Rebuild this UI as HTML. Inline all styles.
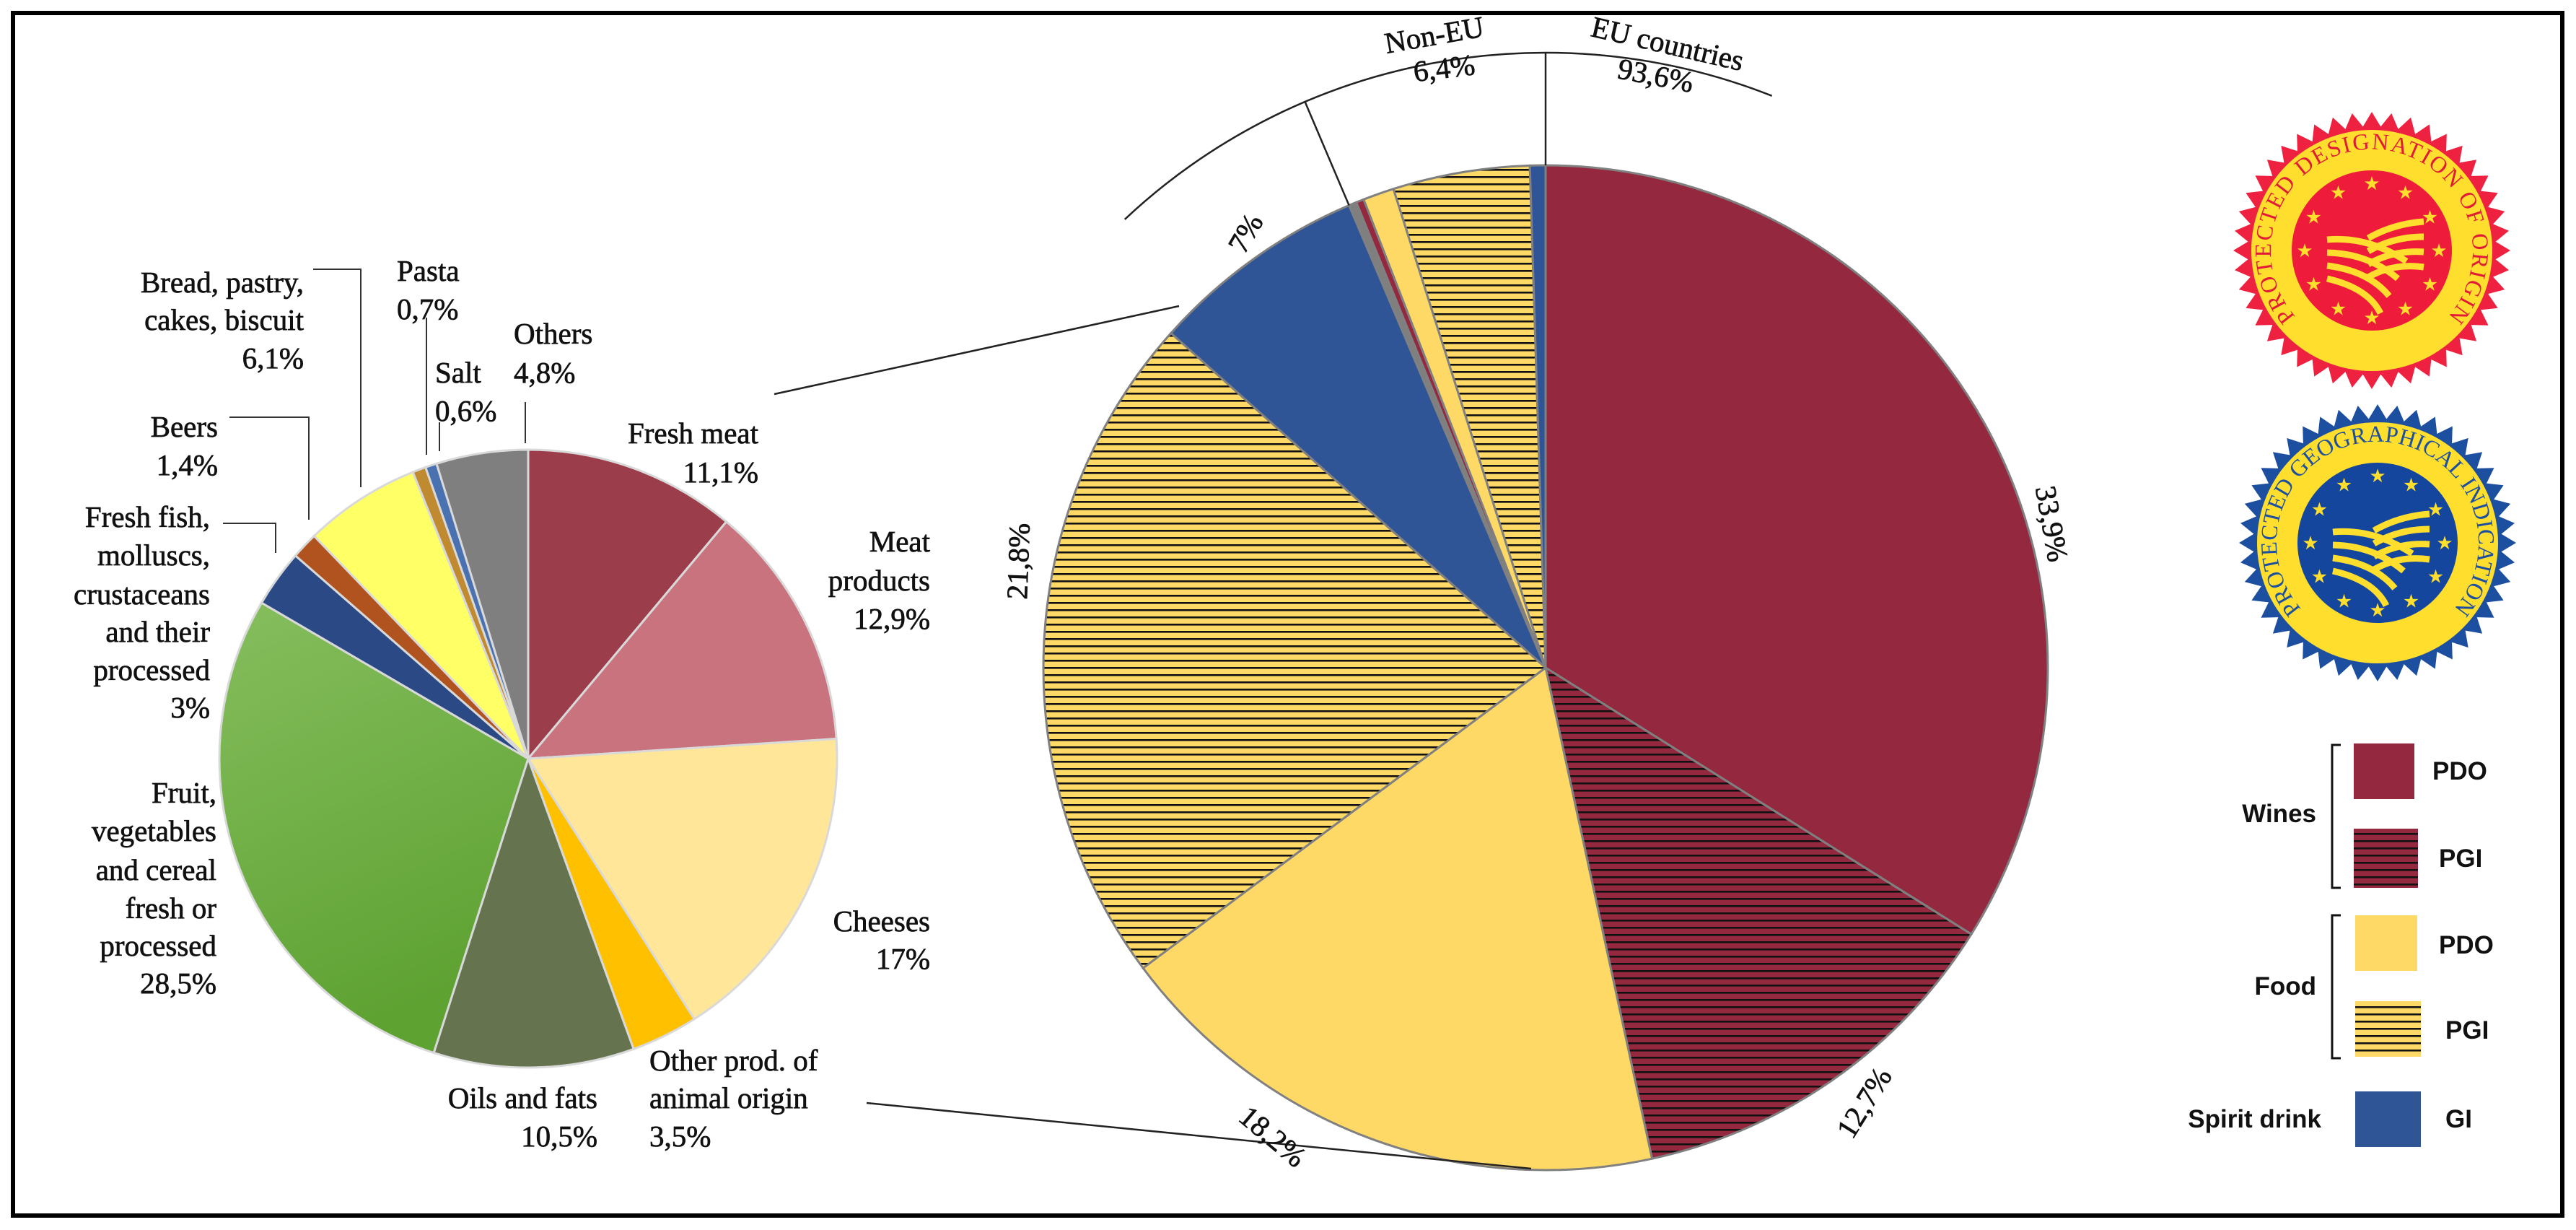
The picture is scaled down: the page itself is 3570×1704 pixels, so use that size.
<!DOCTYPE html>
<html><head><meta charset="utf-8"><style>
html,body{margin:0;padding:0;background:#fff;}
svg{display:block;}
.lbl{font-family:"Liberation Serif",serif;font-size:41px;fill:#111;stroke:#111;stroke-width:0.7px;}
.lg{font-family:"Liberation Sans",sans-serif;font-weight:bold;font-size:35px;fill:#111;}
</style></head><body>
<svg id="chart" width="3570" height="1704" viewBox="0 0 3570 1704" xmlns="http://www.w3.org/2000/svg">
<defs>
<pattern id="stripeWine" width="20" height="10" patternUnits="userSpaceOnUse"><rect width="20" height="10" fill="#93283F"/><rect y="4" width="20" height="2.6" fill="#111"/></pattern>
<pattern id="stripeFood" width="20" height="10" patternUnits="userSpaceOnUse"><rect width="20" height="10" fill="#FFD966"/><rect y="4" width="20" height="2.6" fill="#111"/></pattern>
<linearGradient id="greenGrad" x1="0" y1="0" x2="0.3" y2="1"><stop offset="0" stop-color="#86BE5E"/><stop offset="1" stop-color="#5EA232"/></linearGradient>
<path id="pdoTextPath" d="M 3197 454 A 140 140 0 1 1 3377 454"/>
<path id="pgiTextPath" d="M 3205 859 A 140 140 0 1 1 3385 859"/>
</defs>
<rect x="18" y="18" width="3533" height="1666" fill="none" stroke="#000" stroke-width="6"/>

<g id="leftPie"></g>
<g id="rightPie"></g>

<line x1="1073" y1="546" x2="1634" y2="424" stroke="#222" stroke-width="2.5"/>
<line x1="1201" y1="1528" x2="2122" y2="1619" stroke="#222" stroke-width="2.5"/>

<g id="arcGroup"></g>
<text class="lbl" transform="translate(1990,62) rotate(-10)" text-anchor="middle">Non-EU</text>
<text class="lbl" transform="translate(2003,108) rotate(-7)" text-anchor="middle">6,4%</text>
<text class="lbl" transform="translate(2308,74) rotate(13)" text-anchor="middle">EU countries</text>
<text class="lbl" transform="translate(2292,118) rotate(11)" text-anchor="middle">93,6%</text>

<text class="lbl" transform="translate(2830,728) rotate(80)" text-anchor="middle">33,9%</text>
<text class="lbl" transform="translate(2595,1535) rotate(-58)" text-anchor="middle">12,7%</text>
<text class="lbl" transform="translate(1755,1585) rotate(40)" text-anchor="middle">18,2%</text>
<text class="lbl" transform="translate(1425,778) rotate(-88)" text-anchor="middle">21,8%</text>
<text class="lbl" transform="translate(1738,330) rotate(-60)" text-anchor="middle">7%</text>

<g>
<text class="lbl" x="1051" y="614" text-anchor="end">Fresh meat</text>
<text class="lbl" x="1051" y="668" text-anchor="end">11,1%</text>
<text class="lbl" x="1289" y="764" text-anchor="end">Meat</text>
<text class="lbl" x="1289" y="818" text-anchor="end">products</text>
<text class="lbl" x="1289" y="871" text-anchor="end">12,9%</text>
<text class="lbl" x="1289" y="1290" text-anchor="end">Cheeses</text>
<text class="lbl" x="1289" y="1342" text-anchor="end">17%</text>
<text class="lbl" x="900" y="1483">Other prod. of</text>
<text class="lbl" x="900" y="1535">animal origin</text>
<text class="lbl" x="900" y="1588">3,5%</text>
<text class="lbl" x="828" y="1535" text-anchor="end">Oils and fats</text>
<text class="lbl" x="828" y="1588" text-anchor="end">10,5%</text>
<text class="lbl" x="300" y="1112" text-anchor="end">Fruit,</text>
<text class="lbl" x="300" y="1165" text-anchor="end">vegetables</text>
<text class="lbl" x="300" y="1219" text-anchor="end">and cereal</text>
<text class="lbl" x="300" y="1272" text-anchor="end">fresh or</text>
<text class="lbl" x="300" y="1324" text-anchor="end">processed</text>
<text class="lbl" x="300" y="1376" text-anchor="end">28,5%</text>
<text class="lbl" x="291" y="730" text-anchor="end">Fresh fish,</text>
<text class="lbl" x="291" y="783" text-anchor="end">molluscs,</text>
<text class="lbl" x="291" y="837" text-anchor="end">crustaceans</text>
<text class="lbl" x="291" y="889" text-anchor="end">and their</text>
<text class="lbl" x="291" y="942" text-anchor="end">processed</text>
<text class="lbl" x="291" y="994" text-anchor="end">3%</text>
<text class="lbl" x="302" y="605" text-anchor="end">Beers</text>
<text class="lbl" x="302" y="658" text-anchor="end">1,4%</text>
<text class="lbl" x="421" y="405" text-anchor="end">Bread, pastry,</text>
<text class="lbl" x="421" y="457" text-anchor="end">cakes, biscuit</text>
<text class="lbl" x="421" y="510" text-anchor="end">6,1%</text>
<text class="lbl" x="550" y="389">Pasta</text>
<text class="lbl" x="550" y="442">0,7%</text>
<text class="lbl" x="603" y="530">Salt</text>
<text class="lbl" x="603" y="583">0,6%</text>
<text class="lbl" x="712" y="476">Others</text>
<text class="lbl" x="712" y="530">4,8%</text>
</g>
<g stroke="#333" stroke-width="2" fill="none">
<polyline points="318,578 428,578 428,720"/>
<polyline points="434,373 500,373 500,675"/>
<polyline points="309,725 382,725 382,766"/>
<line x1="591" y1="440" x2="591" y2="630"/>
<line x1="609" y1="585" x2="609" y2="625"/>
<line x1="728" y1="557" x2="728" y2="614"/>
</g>

<g id="badgePdo"></g>
<g id="badgePgi"></g>

<g>
<rect x="3262" y="1030" width="84" height="77" fill="#93283F"/>
<rect x="3262" y="1148" width="89" height="82" fill="url(#stripeWine)"/>
<rect x="3264" y="1268" width="86" height="77" fill="#FFD966"/>
<rect x="3264" y="1387" width="91" height="77" fill="url(#stripeFood)"/>
<rect x="3264" y="1512" width="91" height="77" fill="#2F5597"/>
<text class="lg" x="3371" y="1080">PDO</text>
<text class="lg" x="3380" y="1201">PGI</text>
<text class="lg" x="3380" y="1321">PDO</text>
<text class="lg" x="3389" y="1439">PGI</text>
<text class="lg" x="3389" y="1562">GI</text>
<text class="lg" x="3210" y="1139" text-anchor="end">Wines</text>
<text class="lg" x="3210" y="1378" text-anchor="end">Food</text>
<text class="lg" x="3217" y="1562" text-anchor="end">Spirit drink</text>
<polyline points="3244,1032 3232,1032 3232,1230 3244,1230" fill="none" stroke="#111" stroke-width="3"/>
<polyline points="3244,1268 3232,1268 3232,1466 3244,1466" fill="none" stroke="#111" stroke-width="3"/>
</g>
</svg>
<script>
const leftCategories = ['Fresh meat','Meat products','Cheeses','Other prod. of animal origin','Oils and fats','Fruit, vegetables and cereal','Fresh fish, molluscs, crustaceans','Beers','Bread, pastry, cakes, biscuit','Pasta','Salt','Others'];
const leftValues = [11.1, 12.9, 17, 3.5, 10.5, 28.5, 3, 1.4, 6.1, 0.7, 0.6, 4.8];
const leftColors = ['#9B3D4A','#C9737E','#FFE699','#FFC000','#66734F','url(#greenGrad)','#2B4A85','#B0531F','#FFFF66','#C08A30','#4A72B0','#7F7F7F'];
const rightCategories = ['Wines PDO EU','Wines PGI EU','Food PDO EU','Food PGI EU','Spirit GI EU','Wines PDO non-EU','Wines PGI non-EU','Food PDO non-EU','Food PGI non-EU','Spirit GI non-EU'];
const rightValues = [33.9, 12.7, 18.2, 21.8, 7.0, 0.25, 0.25, 1.0, 4.4, 0.5];
const rightColors = ['#93283F','url(#stripeWine)','#FFD966','url(#stripeFood)','#2F5597','#7F7F7F','#93283F','#FFD966','url(#stripeFood)','#2F5597'];
const regionValues = [93.6, 6.4];

const NS = 'http://www.w3.org/2000/svg';
function pt(cx, cy, r, frac) { const a = frac * 2 * Math.PI; return [cx + r * Math.sin(a), cy - r * Math.cos(a)]; }
function slicePath(cx, cy, r, f0, f1) {
  const p0 = pt(cx, cy, r, f0), p1 = pt(cx, cy, r, f1);
  const large = (f1 - f0) > 0.5 ? 1 : 0;
  return `M${cx},${cy} L${p0[0]},${p0[1]} A${r},${r} 0 ${large} 1 ${p1[0]},${p1[1]} Z`;
}
function drawPie(gid, values, colors, cats, cx, cy, r, stroke, sw) {
  const g = document.getElementById(gid);
  const total = values.reduce((a, b) => a + b, 0);
  let acc = 0;
  values.forEach((v, i) => {
    const f0 = acc / total, f1 = (acc + v) / total; acc += v;
    const p = document.createElementNS(NS, 'path');
    p.setAttribute('d', slicePath(cx, cy, r, f0, f1));
    p.setAttribute('fill', colors[i]);
    p.setAttribute('stroke', stroke);
    p.setAttribute('stroke-width', sw);
    
    
    g.appendChild(p);
  });
}
drawPie('leftPie', leftValues, leftColors, leftCategories, 732, 1051, 428, '#D9D9D9', 3);
drawPie('rightPie', rightValues, rightColors, rightCategories, 2142, 925, 696, '#808080', 3);

(function () {
  const g = document.getElementById('arcGroup');
  const cx = 2142, cy = 925, R = 852, r0 = 696;
  const total = regionValues[0] + regionValues[1];
  const nonEuStart = regionValues[0] / total;
  const a0 = -0.12, a1 = 0.06;
  const p0 = pt(cx, cy, R, a0), p1 = pt(cx, cy, R, a1);
  const arc = document.createElementNS(NS, 'path');
  arc.setAttribute('d', `M${p0[0]},${p0[1]} A${R},${R} 0 0 1 ${p1[0]},${p1[1]}`);
  arc.setAttribute('fill', 'none'); arc.setAttribute('stroke', '#222'); arc.setAttribute('stroke-width', '2.5');
  
  
  g.appendChild(arc);
  [0, nonEuStart].forEach(f => {
    const a = pt(cx, cy, r0, f), b = pt(cx, cy, R, f);
    const l = document.createElementNS(NS, 'line');
    l.setAttribute('x1', a[0]); l.setAttribute('y1', a[1]); l.setAttribute('x2', b[0]); l.setAttribute('y2', b[1]);
    l.setAttribute('stroke', '#222'); l.setAttribute('stroke-width', '2.5');
    
    
    g.appendChild(l);
  });
})();

function badge(gid, cx, cy, edge, ring, inner, textColor, starColor, text, pathId) {
  const g = document.getElementById(gid);
  let pts = [];
  const n = 44;
  for (let i = 0; i < n * 2; i++) {
    const r = i % 2 === 0 ? 192 : 172;
    const a = i / (n * 2) * 2 * Math.PI;
    pts.push((cx + r * Math.sin(a)).toFixed(1) + ',' + (cy - r * Math.cos(a)).toFixed(1));
  }
  const poly = document.createElementNS(NS, 'polygon');
  poly.setAttribute('points', pts.join(' ')); poly.setAttribute('fill', edge);
  
  
  g.appendChild(poly);
  const c1 = document.createElementNS(NS, 'circle');
  c1.setAttribute('cx', cx); c1.setAttribute('cy', cy); c1.setAttribute('r', 167); c1.setAttribute('fill', ring);
  
  
  g.appendChild(c1);
  const c2 = document.createElementNS(NS, 'circle');
  c2.setAttribute('cx', cx); c2.setAttribute('cy', cy); c2.setAttribute('r', 111); c2.setAttribute('fill', inner);
  
  
  g.appendChild(c2);
  for (let i = 0; i < 12; i++) {
    const a = i / 12 * 2 * Math.PI;
    const s = document.createElementNS(NS, 'text');
    s.setAttribute('x', cx + 93 * Math.sin(a)); s.setAttribute('y', cy - 93 * Math.cos(a) + 9);
    s.setAttribute('text-anchor', 'middle'); s.setAttribute('font-size', '26'); s.setAttribute('fill', starColor);
    s.setAttribute('font-family', 'DejaVu Sans, sans-serif');
    
    
    s.textContent = '★';
    g.appendChild(s);
  }
  for (let k = 0; k < 4; k++) {
    const sw = document.createElementNS(NS, 'path');
    const y = cy - 15 + k * 18;
    sw.setAttribute('d', `M${cx - 62},${y} Q${cx - 5},${y - 5 + k * 6} ${cx + 48 - k * 12},${y + 30 + k * 6} M${cx - 5},${y - 2} Q${cx + 30},${y - 22} ${cx + 72},${y - 25 + k * 3}`);
    sw.setAttribute('stroke', starColor); sw.setAttribute('stroke-width', '9'); sw.setAttribute('fill', 'none');
    
    
    g.appendChild(sw);
  }
  const t = document.createElementNS(NS, 'text');
  t.setAttribute('font-family', 'Liberation Serif, serif'); t.setAttribute('font-size', '32'); t.setAttribute('fill', textColor);
  
  
  const tp = document.createElementNS(NS, 'textPath');
  tp.setAttribute('href', '#' + pathId); tp.setAttribute('startOffset', '50%'); tp.setAttribute('text-anchor', 'middle');
  tp.setAttribute('textLength', '640'); tp.setAttribute('lengthAdjust', 'spacing');
  tp.textContent = text;
  t.appendChild(tp);
  g.appendChild(t);
}
badge('badgePdo', 3287, 347, '#EE2240', '#FFDE2E', '#EE1C3A', '#E11B36', '#FFDE2E', 'PROTECTED DESIGNATION OF ORIGIN', 'pdoTextPath');
badge('badgePgi', 3295, 752, '#1D4FA0', '#FFDE2E', '#13469C', '#1D4FA0', '#FFDE2E', 'PROTECTED GEOGRAPHICAL INDICATION', 'pgiTextPath');
</script>
</body></html>
